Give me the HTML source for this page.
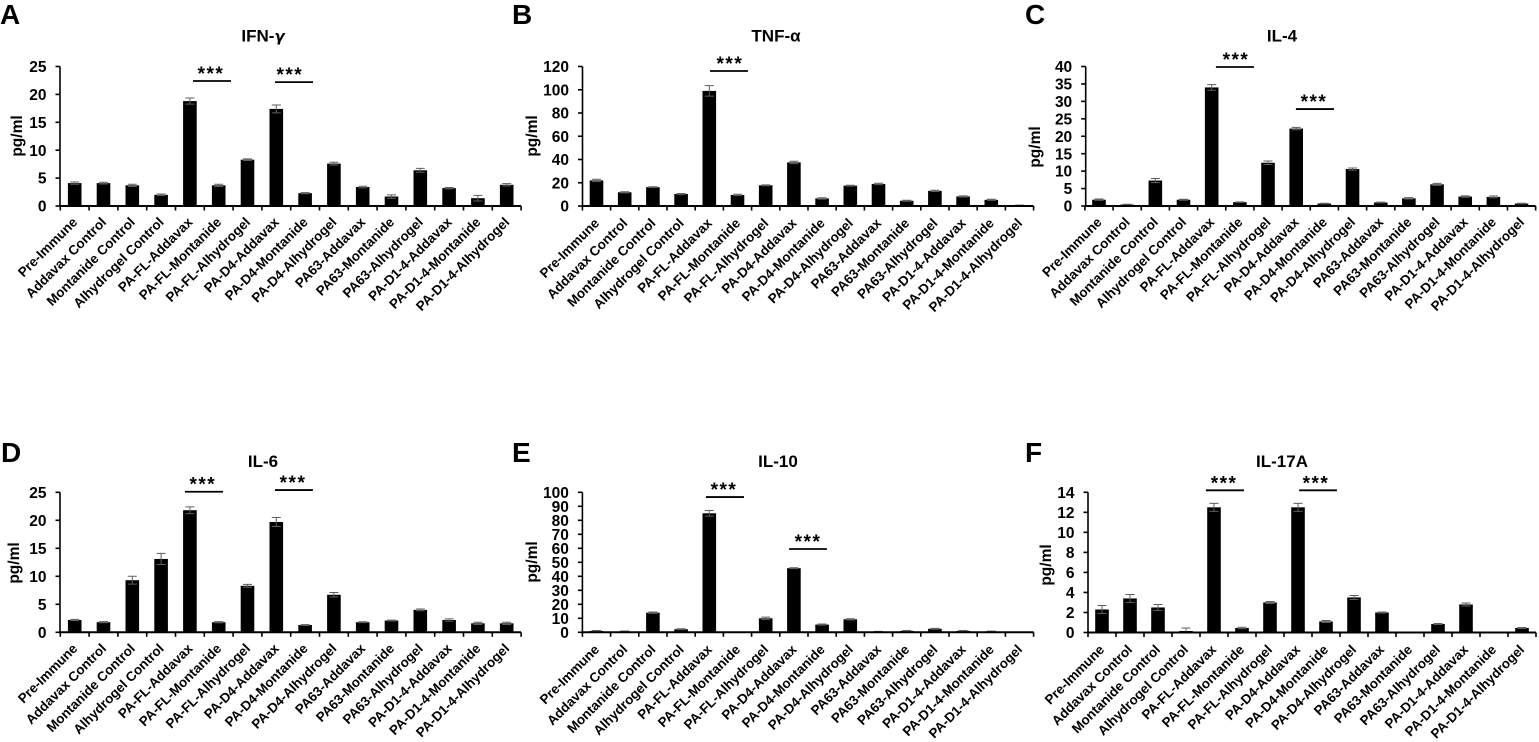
<!DOCTYPE html>
<html lang="en">
<head>
<meta charset="utf-8">
<title>Cytokine panels</title>
<style>
html,body{margin:0;padding:0;background:#fff;width:1539px;height:742px;overflow:hidden}
svg{display:block;font-family:"Liberation Sans",Arial,sans-serif;font-weight:bold;fill:#000}
</style>
</head>
<body>
<svg id="figure" xmlns="http://www.w3.org/2000/svg" width="1539" height="742" viewBox="0 0 1539 742"></svg>
<script>
const categories = ["Pre-Immune","Addavax Control","Montanide Control","Alhydrogel Control","PA-FL-Addavax","PA-FL-Montanide","PA-FL-Alhydrogel","PA-D4-Addavax","PA-D4-Montanide","PA-D4-Alhydrogel","PA63-Addavax","PA63-Montanide","PA63-Alhydrogel","PA-D1-4-Addavax","PA-D1-4-Montanide","PA-D1-4-Alhydrogel"];

const ifnValues = [4.1,4.1,3.7,2.0,18.8,3.7,8.3,17.4,2.3,7.6,3.4,1.7,6.4,3.2,1.4,3.8];
const ifnErrors = [0.2,0.15,0.2,0.15,0.55,0.2,0.15,0.7,0.1,0.25,0.15,0.3,0.35,0.12,0.5,0.2];
const ifnTicks = [0,5,10,15,20,25];

const tnfValues = [22,11.8,16.2,10.3,99,9.5,17.8,37.5,6.5,17.5,19,4.5,13,8.2,5.3,0.5];
const tnfErrors = [1,0.5,0.4,0.5,4.5,0.6,0.4,1,0.6,0.4,0.6,0.4,0.5,0.5,0.5,0.2];
const tnfTicks = [0,20,40,60,80,100,120];

const il4Values = [1.8,0.4,7.3,1.8,34,1.1,12.4,22.2,0.7,10.6,1.0,2.2,6.2,2.7,2.6,0.7];
const il4Errors = [0.2,0.1,0.6,0.15,0.8,0.1,0.5,0.35,0.1,0.3,0.1,0.2,0.3,0.2,0.25,0.1];
const il4Ticks = [0,5,10,15,20,25,30,35,40];

const il6Values = [2.2,1.8,9.3,13.1,21.8,1.8,8.3,19.7,1.3,6.7,1.8,2.1,4.0,2.2,1.6,1.6];
const il6Errors = [0.1,0.1,0.7,1.0,0.6,0.1,0.25,0.8,0.08,0.4,0.08,0.08,0.15,0.2,0.2,0.2];
const il6Ticks = [0,5,10,15,20,25];

const il10Values = [1,0.6,14,2.2,85,0,10,45.8,5.5,9.3,0.5,1,2.5,1,0.6,0];
const il10Errors = [0.3,0.3,0.5,0.3,2,0,0.8,0.3,0.4,0.4,0.2,0.3,0.3,0.3,0.2,0];
const il10Ticks = [0,10,20,30,40,50,60,70,80,90,100];

const il17Values = [2.3,3.4,2.5,0.15,12.5,0.45,3.0,12.5,1.1,3.5,2.0,0,0.85,2.8,0,0.45];
const il17Errors = [0.4,0.4,0.3,0.3,0.4,0.08,0.1,0.4,0.1,0.2,0.05,0,0.05,0.15,0,0.05];
const il17Ticks = [0,2,4,6,8,10,12,14];

/* significance brackets, in data units: [from category, to category, level, star category] */
const ifnSig = [[4.107,5.427,22.4,4.73],[6.955,8.274,22.2,7.47]];
const tnfSig = [[4.025,5.37,116.1,4.73]];
const il4Sig = [[4.15,5.5,39.86,4.86],[6.99,8.34,27.8,7.63]];
const il6Sig = [[3.83,5.15,25.1,4.45],[6.955,8.27,25.4,7.58]];
const il10Sig = [[3.88,5.23,96.6,4.52],[6.83,8.17,59.5,7.5]];
const il17Sig = [[3.71,5.07,14.2,4.36],[7.04,8.39,14.2,7.64]];

const panels = [
 {id:"a",letter:"A",lx:0,ly:24,title:"IFN-",greek:"γ",tx:263,ty:41.5,ylx:17,yly:136,axisX:60,first:74.7,step:28.8,y0:206,top:66.5,labelDx:3.5,labelDy:17,values:ifnValues,errors:ifnErrors,ticks:ifnTicks,sig:ifnSig},
 {id:"b",letter:"B",lx:512,ly:24,title:"TNF-α",tx:776,ty:41.5,ylx:532,yly:136,axisX:582.5,first:596.5,step:28.2,y0:206,top:66.5,labelDx:3.5,labelDy:18,values:tnfValues,errors:tnfErrors,ticks:tnfTicks,sig:tnfSig},
 {id:"c",letter:"C",lx:1025,ly:24,title:"IL-4",tx:1282,ty:41.5,ylx:1035,yly:147,axisX:1085.7,first:1099,step:28.17,labelDx:3.5,labelDy:17,y0:206,top:66.5,values:il4Values,errors:il4Errors,ticks:il4Ticks,sig:il4Sig},
 {id:"d",letter:"D",lx:1,ly:462,title:"IL-6",tx:263,ty:467,ylx:14,yly:563,axisX:60,first:74.7,step:28.8,y0:632.3,top:492.3,labelDx:3.5,labelDy:17,values:il6Values,errors:il6Errors,ticks:il6Ticks,sig:il6Sig},
 {id:"e",letter:"E",lx:512,ly:462,title:"IL-10",tx:778,ty:467,ylx:532,yly:562,axisX:582.4,first:596.5,step:28.2,y0:632.3,top:492.3,labelDx:3.5,labelDy:18,values:il10Values,errors:il10Errors,ticks:il10Ticks,sig:il10Sig},
 {id:"f",letter:"F",lx:1025,ly:462,title:"IL-17A",tx:1282,ty:467,ylx:1046,yly:565,axisX:1088,first:1102,step:28,y0:632.5,top:492.3,labelDx:3,labelDy:18,values:il17Values,errors:il17Errors,ticks:il17Ticks,sig:il17Sig}
];

const NS = "http://www.w3.org/2000/svg";
const root = document.getElementById("figure");

function make(parent, tag, attrs, text){
  const el = document.createElementNS(NS, tag);
  for (const k in attrs) el.setAttribute(k, attrs[k]);
  if (text !== undefined) el.textContent = text;
  parent.appendChild(el);
  return el;
}

function drawPanel(p){
  const maxTick = p.ticks[p.ticks.length - 1];
  const xScale = i => p.first + i * p.step;
  const yScale = v => p.y0 - (v / maxTick) * (p.y0 - p.top);
  const barWidth = 13.6;
  const axisEnd = xScale(15.5);

  const g = make(root, "g", {});
  
  

  const letter = make(g, "text", {x:p.lx, y:p.ly, "font-size":28}, p.letter);
  
  

  const title = make(g, "text", {x:p.tx, y:p.ty, "font-size":17, "text-anchor":"middle"}, p.title);
  
  
  if (p.greek) {
    const sp = make(title, "tspan", {"font-style":"italic", "font-family":"'DejaVu Sans',sans-serif", "font-size":15}, p.greek);
    
    
  }

  const yTitle = make(g, "text", {"font-size":15.5, "text-anchor":"middle", transform:"translate(" + (p.ylx + 5) + "," + p.yly + ") rotate(-90)"}, "pg/ml");
  
  

  p.values.forEach(function(v, i){
    const x = xScale(i);
    if (v > 0) {
      const bar = make(g, "rect", {x:x - barWidth / 2, y:yScale(v), width:barWidth, height:p.y0 - yScale(v), fill:"#000"});
      
      
    }
    const e = p.errors[i];
    if (e > 0) {
      const hi = yScale(v + e), lo = yScale(Math.max(0, v - e));
      const err = make(g, "path", {d:"M" + x + " " + hi + "V" + lo + "M" + (x - 4.5) + " " + hi + "H" + (x + 4.5) + "M" + (x - 4.5) + " " + lo + "H" + (x + 4.5), stroke:"#5f5f5f", "stroke-width":1, fill:"none"});
      
      
    }
  });

  const yAxis = make(g, "line", {x1:p.axisX, x2:p.axisX, y1:p.top, y2:p.y0 + 1, stroke:"#000", "stroke-width":1.6});
  
  
  const xAxis = make(g, "line", {x1:p.axisX, x2:axisEnd, y1:p.y0, y2:p.y0, stroke:"#000", "stroke-width":2});
  
  

  p.ticks.forEach(function(t){
    const y = yScale(t);
    const tick = make(g, "line", {x1:p.axisX - 4.5, x2:p.axisX, y1:y, y2:y, stroke:"#000", "stroke-width":1.6});
    
    
    const lab = make(g, "text", {x:p.axisX - 13.5, y:y + 5.6, "font-size":15.5, "text-anchor":"end"}, String(t));
    
    
  });

  for (let i = 0; i <= categories.length; i++) {
    const x = xScale(i - 0.5);
    const tick = make(g, "line", {x1:x, x2:x, y1:p.y0, y2:p.y0 + 4.5, stroke:"#000", "stroke-width":1.6});
    
    
  }

  categories.forEach(function(c, i){
    const lab = make(g, "text", {"font-size":13.4, "text-anchor":"end", transform:"translate(" + (xScale(i) + p.labelDx) + "," + (p.y0 + p.labelDy) + ") rotate(-45)"}, c);
    
    
  });

  p.sig.forEach(function(s){
    const y = yScale(s[2]);
    const line = make(g, "line", {x1:xScale(s[0]), x2:xScale(s[1]), y1:y, y2:y, stroke:"#000", "stroke-width":1.8});
    
    
    const star = make(g, "text", {x:xScale(s[3]), y:y - 1, "font-size":19, "text-anchor":"middle", "letter-spacing":"1.5"}, "***");
    
    
  });
}

panels.forEach(drawPanel);
</script>
</body>
</html>
